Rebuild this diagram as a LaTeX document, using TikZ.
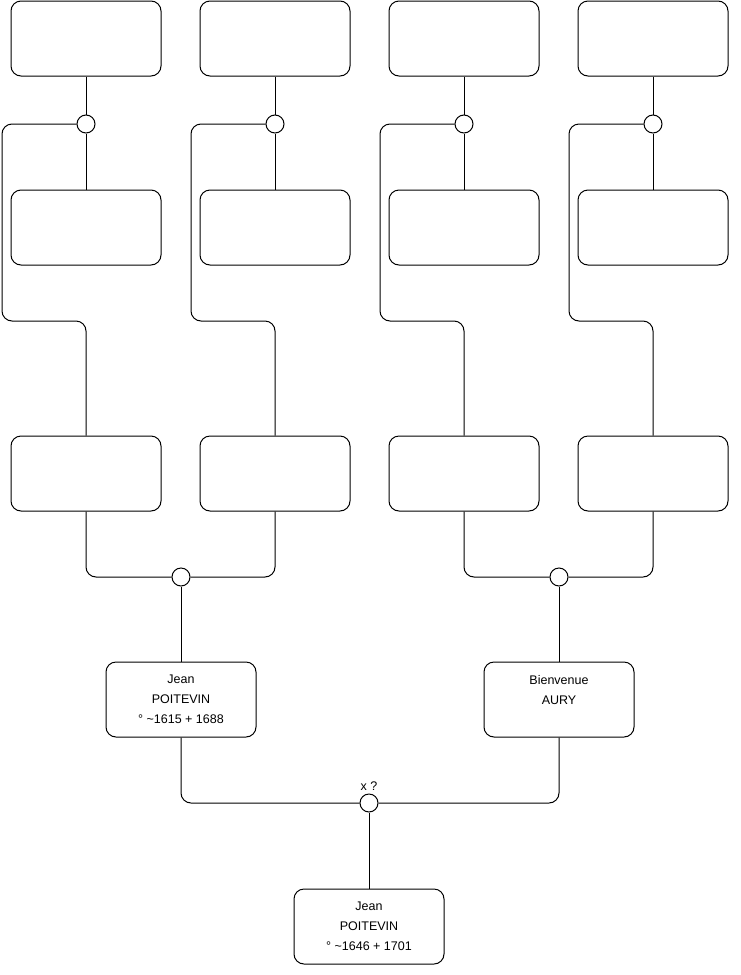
\documentclass[tikz,border=0pt]{standalone}
\usepackage{fontspec}
\setmainfont{Liberation Sans}
\begin{document}
\begin{tikzpicture}[x=1pt,y=-1pt,line width=1pt,
  pbox/.style={draw,rounded corners=10pt,minimum width=150pt,minimum height=75pt,inner sep=0pt,align=center,font=\fontsize{12.5}{20}\selectfont},
  knot/.style={draw,circle,fill=white,minimum size=18pt,inner sep=0pt},
  link/.style={rounded corners=10pt}]
\useasboundingbox (0,0) rectangle (740,975);
% top row boxes
\node[pbox] (a1) at (86,38.5) {};
\node[pbox] (a2) at (275,38.5) {};
\node[pbox] (a3) at (464,38.5) {};
\node[pbox] (a4) at (653,38.5) {};
% second row
\node[pbox] (b1) at (86,227.5) {};
\node[pbox] (b2) at (275,227.5) {};
\node[pbox] (b3) at (464,227.5) {};
\node[pbox] (b4) at (653,227.5) {};
% third row
\node[pbox] (c1) at (86,473.5) {};
\node[pbox] (c2) at (275,473.5) {};
\node[pbox] (c3) at (464,473.5) {};
\node[pbox] (c4) at (653,473.5) {};
% circles
\node[knot] (k1) at (86,124) {};
\node[knot] (k2) at (275,124) {};
\node[knot] (k3) at (464,124) {};
\node[knot] (k4) at (653,124) {};
\node[knot] (m1) at (181,577) {};
\node[knot] (m2) at (559,577) {};
\node[knot] (m3) at (369,803) {};
\node[font=\fontsize{12.5}{14}\selectfont] (xq) at (369,786) {x ?};
% persons
\node[pbox] (p1) at (181,699.5) {Jean\\POITEVIN\\° \textasciitilde1615 + 1688};
\node[pbox] (p2) at (559,699.5) {Bienvenue\\AURY\\{}};
\node[pbox] (p3) at (369,926.5) {Jean\\POITEVIN\\° \textasciitilde1646 + 1701};
% top links
\foreach \i/\x/\lx in {1/86/2,2/275/191,3/464/380,4/653/569}{
  \draw (a\i.south) -- (k\i.north);
  \draw (k\i.south) -- (b\i.north);
  \draw[link] (k\i.west) -- (\lx,124) -- (\lx,321) -- (\x,321) -- (c\i.north);
}
% third row to middle
\draw[link] (m1.west) -- (86,577) -- (c1.south);
\draw[link] (m1.east) -- (275,577) -- (c2.south);
\draw[link] (m2.west) -- (464,577) -- (c3.south);
\draw[link] (m2.east) -- (653,577) -- (c4.south);
\draw (m1.south) -- (p1.north);
\draw (m2.south) -- (p2.north);
\draw[link] (m3.west) -- (181,803) -- (p1.south);
\draw[link] (m3.east) -- (559,803) -- (p2.south);
\draw (m3.south) -- (p3.north);
\end{tikzpicture}
\end{document}
